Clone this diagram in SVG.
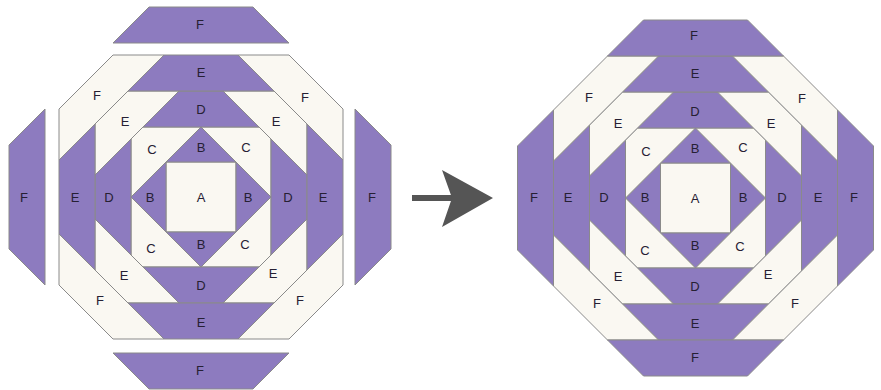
<svg xmlns="http://www.w3.org/2000/svg" xmlns:xlink="http://www.w3.org/1999/xlink" width="881" height="390" viewBox="0 0 881 390">
<style>
.p{fill:#8d7bbf;stroke:#8a8a8a;stroke-width:1;stroke-linejoin:round}
.w{fill:#faf8f2;stroke:#8a8a8a;stroke-width:1;stroke-linejoin:round}
text{font-family:"Liberation Sans",Arial,sans-serif;font-size:13px;fill:#262033;text-anchor:middle}
</style>
<defs>
<polygon id="pA" points="-35,-35 35,-35 35,35 -35,35"/>
<polygon id="pB" points="-35,-35 35,-35 0,-70"/>
<polygon id="pC" points="0,-70 -58,-70 -70,-58 -70,0"/>
<polygon id="pD" points="-58,-70 58,-70 22,-106 -22,-106"/>
<polygon id="pEw" points="-22,-106 -73,-106 -106,-73 -106,-22"/>
<polygon id="pEp" points="-73,-106 73,-106 37,-142 -37,-142"/>
<polygon id="pFw" points="-37,-142 -88,-142 -142,-88 -142,-37"/>
<polygon id="pFp" points="-88,-142 88,-142 52,-178 -52,-178"/>
</defs>
<rect width="881" height="390" fill="#ffffff"/>

<!-- LEFT FIGURE (center 201,197) -->
<g id="left">
<g id="L-A"><use href="#pA" class="w" transform="translate(201,197)"/><text x="201" y="202">A</text></g>
<g id="L-B-top"><use href="#pB" class="p" transform="translate(201,197)"/><text x="201" y="152">B</text></g>
<g id="L-B-right"><use href="#pB" class="p" transform="translate(201,197) rotate(90)"/><text x="248" y="202">B</text></g>
<g id="L-B-bottom"><use href="#pB" class="p" transform="translate(201,197) rotate(180)"/><text x="201" y="249">B</text></g>
<g id="L-B-left"><use href="#pB" class="p" transform="translate(201,197) rotate(270)"/><text x="150" y="202">B</text></g>
<g id="L-C-tl"><use href="#pC" class="w" transform="translate(201,197)"/><text x="152" y="154">C</text></g>
<g id="L-C-tr"><use href="#pC" class="w" transform="translate(201,197) rotate(90)"/><text x="246" y="152">C</text></g>
<g id="L-C-br"><use href="#pC" class="w" transform="translate(201,197) rotate(180)"/><text x="245" y="249">C</text></g>
<g id="L-C-bl"><use href="#pC" class="w" transform="translate(201,197) rotate(270)"/><text x="151" y="253">C</text></g>
<g id="L-D-top"><use href="#pD" class="p" transform="translate(201,197)"/><text x="201" y="114">D</text></g>
<g id="L-D-right"><use href="#pD" class="p" transform="translate(201,197) rotate(90)"/><text x="288" y="202">D</text></g>
<g id="L-D-bottom"><use href="#pD" class="p" transform="translate(201,197) rotate(180)"/><text x="201" y="290">D</text></g>
<g id="L-D-left"><use href="#pD" class="p" transform="translate(201,197) rotate(270)"/><text x="109" y="202">D</text></g>
<g id="L-Ew-tl"><use href="#pEw" class="w" transform="translate(201,197)"/><text x="125" y="126">E</text></g>
<g id="L-Ew-tr"><use href="#pEw" class="w" transform="translate(201,197) rotate(90)"/><text x="276" y="126">E</text></g>
<g id="L-Ew-br"><use href="#pEw" class="w" transform="translate(201,197) rotate(180)"/><text x="273" y="278">E</text></g>
<g id="L-Ew-bl"><use href="#pEw" class="w" transform="translate(201,197) rotate(270)"/><text x="124" y="280">E</text></g>
<g id="L-Ep-top"><use href="#pEp" class="p" transform="translate(201,197)"/><text x="201" y="77">E</text></g>
<g id="L-Ep-right"><use href="#pEp" class="p" transform="translate(201,197) rotate(90)"/><text x="323" y="202">E</text></g>
<g id="L-Ep-bottom"><use href="#pEp" class="p" transform="translate(201,197) rotate(180)"/><text x="201" y="327">E</text></g>
<g id="L-Ep-left"><use href="#pEp" class="p" transform="translate(201,197) rotate(270)"/><text x="75" y="202">E</text></g>
<g id="L-Fw-tl"><use href="#pFw" class="w" transform="translate(201,197)"/><text x="97" y="100">F</text></g>
<g id="L-Fw-tr"><use href="#pFw" class="w" transform="translate(201,197) rotate(90)"/><text x="305" y="102">F</text></g>
<g id="L-Fw-br"><use href="#pFw" class="w" transform="translate(201,197) rotate(180)"/><text x="300" y="305">F</text></g>
<g id="L-Fw-bl"><use href="#pFw" class="w" transform="translate(201,197) rotate(270)"/><text x="100" y="305">F</text></g>
<g id="L-Fp-top"><use href="#pFp" class="p" transform="translate(201,185)"/><text x="200" y="29">F</text></g>
<g id="L-Fp-right"><use href="#pFp" class="p" transform="translate(213,197) rotate(90)"/><text x="372" y="202">F</text></g>
<g id="L-Fp-bottom"><use href="#pFp" class="p" transform="translate(201,211) rotate(180)"/><text x="200" y="375">F</text></g>
<g id="L-Fp-left"><use href="#pFp" class="p" transform="translate(187,197) rotate(270)"/><text x="24" y="202">F</text></g>
</g>

<!-- RIGHT FIGURE (center 695.5,198) -->
<g id="right">
<g id="R-A"><use href="#pA" class="w" transform="translate(695.5,198)"/><text x="695" y="203">A</text></g>
<g id="R-B-top"><use href="#pB" class="p" transform="translate(695.5,198)"/><text x="695" y="153">B</text></g>
<g id="R-B-right"><use href="#pB" class="p" transform="translate(695.5,198) rotate(90)"/><text x="743" y="202">B</text></g>
<g id="R-B-bottom"><use href="#pB" class="p" transform="translate(695.5,198) rotate(180)"/><text x="695" y="250">B</text></g>
<g id="R-B-left"><use href="#pB" class="p" transform="translate(695.5,198) rotate(270)"/><text x="645" y="202">B</text></g>
<g id="R-C-tl"><use href="#pC" class="w" transform="translate(695.5,198)"/><text x="646" y="156">C</text></g>
<g id="R-C-tr"><use href="#pC" class="w" transform="translate(695.5,198) rotate(90)"/><text x="743" y="152">C</text></g>
<g id="R-C-br"><use href="#pC" class="w" transform="translate(695.5,198) rotate(180)"/><text x="740" y="251">C</text></g>
<g id="R-C-bl"><use href="#pC" class="w" transform="translate(695.5,198) rotate(270)"/><text x="645" y="255">C</text></g>
<g id="R-D-top"><use href="#pD" class="p" transform="translate(695.5,198)"/><text x="695" y="116">D</text></g>
<g id="R-D-right"><use href="#pD" class="p" transform="translate(695.5,198) rotate(90)"/><text x="782" y="202">D</text></g>
<g id="R-D-bottom"><use href="#pD" class="p" transform="translate(695.5,198) rotate(180)"/><text x="695" y="291">D</text></g>
<g id="R-D-left"><use href="#pD" class="p" transform="translate(695.5,198) rotate(270)"/><text x="604" y="202">D</text></g>
<g id="R-Ew-tl"><use href="#pEw" class="w" transform="translate(695.5,198)"/><text x="618" y="128">E</text></g>
<g id="R-Ew-tr"><use href="#pEw" class="w" transform="translate(695.5,198) rotate(90)"/><text x="771" y="128">E</text></g>
<g id="R-Ew-br"><use href="#pEw" class="w" transform="translate(695.5,198) rotate(180)"/><text x="768" y="279">E</text></g>
<g id="R-Ew-bl"><use href="#pEw" class="w" transform="translate(695.5,198) rotate(270)"/><text x="618" y="281">E</text></g>
<g id="R-Ep-top"><use href="#pEp" class="p" transform="translate(695.5,198)"/><text x="695" y="78">E</text></g>
<g id="R-Ep-right"><use href="#pEp" class="p" transform="translate(695.5,198) rotate(90)"/><text x="818" y="202">E</text></g>
<g id="R-Ep-bottom"><use href="#pEp" class="p" transform="translate(695.5,198) rotate(180)"/><text x="695" y="328">E</text></g>
<g id="R-Ep-left"><use href="#pEp" class="p" transform="translate(695.5,198) rotate(270)"/><text x="568" y="202">E</text></g>
<g id="R-Fw-tl"><use href="#pFw" class="w" transform="translate(695.5,198)"/><text x="589" y="102">F</text></g>
<g id="R-Fw-tr"><use href="#pFw" class="w" transform="translate(695.5,198) rotate(90)"/><text x="802" y="103">F</text></g>
<g id="R-Fw-br"><use href="#pFw" class="w" transform="translate(695.5,198) rotate(180)"/><text x="795" y="308">F</text></g>
<g id="R-Fw-bl"><use href="#pFw" class="w" transform="translate(695.5,198) rotate(270)"/><text x="597" y="308">F</text></g>
<g id="R-Fp-top"><use href="#pFp" class="p" transform="translate(695.5,198)"/><text x="694" y="40">F</text></g>
<g id="R-Fp-right"><use href="#pFp" class="p" transform="translate(695.5,198) rotate(90)"/><text x="854" y="202">F</text></g>
<g id="R-Fp-bottom"><use href="#pFp" class="p" transform="translate(695.5,198) rotate(180)"/><text x="695" y="362">F</text></g>
<g id="R-Fp-left"><use href="#pFp" class="p" transform="translate(695.5,198) rotate(270)"/><text x="534" y="202">F</text></g>
</g>

<!-- CONNECTOR -->
<g id="connectors">
<rect x="412" y="195" width="42" height="6" fill="#555555"/>
<polygon points="442,170 493,198 442,227 452,198" fill="#555555"/>
</g>
</svg>
